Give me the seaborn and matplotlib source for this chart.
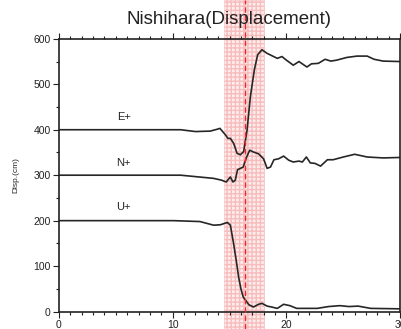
import numpy as np
import pandas as pd
import seaborn as sns
import matplotlib.pyplot as plt
from matplotlib.ticker import MultipleLocator
from matplotlib.patches import Rectangle
from matplotlib.lines import Line2D
from matplotlib.transforms import blended_transform_factory

# East component (offset +400)
e_time = [0, 10.7, 12.0, 13.3, 13.9, 14.15, 14.63, 14.85, 15.07, 15.36, 15.66, 15.95, 16.24,
          16.54, 16.83, 17.18, 17.47, 17.85, 18.3, 19.2, 19.6, 20.0, 20.6, 21.1, 21.8, 22.2,
          22.8, 23.4, 23.9, 24.4, 25.3, 26.2, 27.1, 27.7, 28.5, 30.0]
e_disp = [400, 400, 396, 397, 401, 403, 389, 381, 381, 370, 348, 345, 352,
          400, 473, 532, 565, 576, 568, 557, 561, 553, 542, 550, 538, 545,
          546, 555, 551, 553, 559, 562, 562, 555, 551, 550]

# North component (offset +300)
n_time = [0, 10.7, 13.6, 14.3, 14.7, 15.07, 15.3, 15.5, 15.7, 15.95, 16.2, 16.5, 16.77,
          17.1, 17.55, 17.99, 18.3, 18.6, 18.9, 19.3, 19.75, 20.2, 20.6, 21.1, 21.4,
          21.75, 22.1, 22.5, 23.0, 23.6, 24.1, 25.0, 26.0, 27.1, 28.5, 30.0]
n_disp = [300, 300, 293, 289, 285, 296, 285, 289, 312, 315, 318, 340, 355,
          351, 347, 336, 315, 318, 334, 336, 342, 333, 329, 331, 329,
          340, 327, 326, 320, 334, 334, 340, 346, 340, 338, 339]

# Up component (offset +200)
u_time = [0, 10.1, 12.4, 13.6, 14.2, 14.8, 15.07, 15.35, 15.6, 15.8, 16.0, 16.2, 16.7,
          17.1, 17.55, 17.85, 18.3, 18.7, 19.2, 19.75, 20.3, 20.9, 22.7, 23.7, 24.7,
          25.5, 26.3, 27.4, 30.0]
u_disp = [200, 200, 198, 190, 191, 196, 190, 150, 110, 75, 50, 32, 15,
          10, 16, 18, 12, 10, 7, 16, 13, 7, 7, 11, 13,
          11, 12, 7, 6]

labels = ['E+', 'N+', 'U+']
label_x = [5.7, 5.7, 5.7]
label_y = [428, 327, 230]

band_start, band_end = 14.54, 18.06
peak_time = 16.36

sns.set_style('ticks')
plt.rcParams['font.family'] = ['Liberation Sans', 'DejaVu Sans']

fig = plt.figure(figsize=(4.01, 3.29), dpi=100)
ax = fig.add_axes([0.147, 0.053, 0.851, 0.829])
ax.set_xlim(0, 30)
ax.set_ylim(0, 600)

# Shaded time window and dashed marker run over the whole figure height
trans = blended_transform_factory(ax.transData, fig.transFigure)
fig.add_artist(Rectangle((band_start, 0), band_end - band_start, 1, transform=trans,
                         facecolor='#fdeded', edgecolor='#f7bcbc', hatch='++++',
                         linewidth=0.4, zorder=0))
fig.add_artist(Line2D([peak_time, peak_time], [0, 1], transform=trans, color='#e8262b',
                      linestyle=(0, (4, 2)), linewidth=1.0, zorder=3))
ax.patch.set_alpha(0)

for t, d in [(e_time, e_disp), (n_time, n_disp), (u_time, u_disp)]:
    sns.lineplot(x=t, y=d, ax=ax, color='#262626', linewidth=1.2, sort=False, zorder=2)

for lab, lx, ly in zip(labels, label_x, label_y):
    ax.text(lx, ly, lab, fontsize=8, ha='center', va='center', color='#222222')

ax.xaxis.set_major_locator(MultipleLocator(10))
ax.xaxis.set_minor_locator(MultipleLocator(1))
ax.yaxis.set_major_locator(MultipleLocator(100))
ax.yaxis.set_minor_locator(MultipleLocator(50))
ax.tick_params(which='both', direction='out', top=True, right=False, labelsize=7.5,
               colors='#222222', width=0.8, pad=2)
ax.tick_params(which='major', length=4)
ax.tick_params(which='minor', length=2.5)
for s in ax.spines.values():
    s.set_linewidth(1.2)
    s.set_color('#222222')

ax.set_ylabel('Disp.(cm)', fontsize=6, labelpad=10)
fig.text(0.572, 0.94, 'Nishihara(Displacement)', fontsize=13.5, ha='center', va='center',
         color='#222222', zorder=5)

fig.savefig('out.png', dpi=100)
